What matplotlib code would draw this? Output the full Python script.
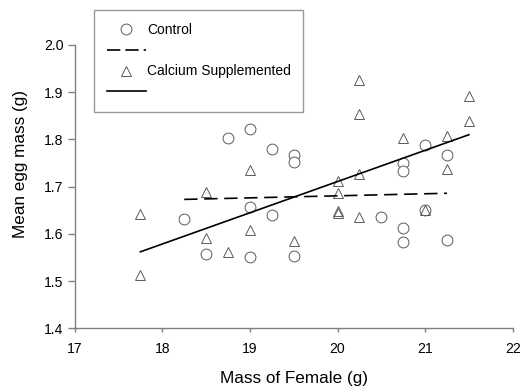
import matplotlib
matplotlib.use("Agg")
import matplotlib.pyplot as plt
from matplotlib.lines import Line2D

plt.rcParams['font.family'] = ['Liberation Sans', 'DejaVu Sans']

# Control (circles)
ctrl_x = [18.25, 18.5, 18.75, 19.0, 19.0, 19.0, 19.25, 19.25, 19.5, 19.5, 19.5,
          20.5, 20.75, 20.75, 20.75, 20.75, 21.0, 21.0, 21.25, 21.25]
ctrl_y = [1.631, 1.557, 1.803, 1.823, 1.657, 1.551, 1.780, 1.640, 1.766, 1.753, 1.553,
          1.636, 1.750, 1.734, 1.613, 1.582, 1.789, 1.650, 1.766, 1.587]

# Calcium supplemented (triangles)
ca_x = [17.75, 17.75, 18.5, 18.5, 18.75, 19.0, 19.0, 19.5, 20.0, 20.0, 20.0, 20.0,
        20.25, 20.25, 20.25, 20.25, 20.75, 21.0, 21.25, 21.25, 21.5, 21.5]
ca_y = [1.642, 1.513, 1.689, 1.592, 1.562, 1.736, 1.608, 1.585, 1.711, 1.687, 1.648, 1.644,
        1.925, 1.854, 1.727, 1.636, 1.803, 1.650, 1.807, 1.738, 1.891, 1.840]

# fitted lines (end points)
ctrl_fit_x = [18.25, 21.25]
ctrl_fit_y = [1.673, 1.686]
ca_fit_x = [17.75, 21.5]
ca_fit_y = [1.562, 1.810]

fig = plt.figure(figsize=(5.2, 3.91), dpi=100)
ax = fig.add_axes([74.7 / 520, 62.7 / 391, 438 / 520, 283.3 / 391])

ax.plot(ctrl_x, ctrl_y, linestyle='none', marker='o', markersize=7.8,
        markerfacecolor='white', markeredgecolor='#5a5a5a', markeredgewidth=0.7, zorder=3)
ax.plot(ca_x, ca_y, linestyle='none', marker='^', markersize=7.8,
        markerfacecolor='none', markeredgecolor='#5a5a5a', markeredgewidth=0.7, zorder=3)
ax.plot(ctrl_fit_x, ctrl_fit_y, color='black', linewidth=1.2, linestyle=(0, (8, 4)), zorder=4)
ax.plot(ca_fit_x, ca_fit_y, color='black', linewidth=1.2, zorder=4)

ax.set_xlim(17, 22)
ax.set_ylim(1.4, 2.0)
ax.set_xticks([17, 18, 19, 20, 21, 22])
ax.set_yticks([1.4, 1.5, 1.6, 1.7, 1.8, 1.9, 2.0])
ax.set_yticklabels(['1.4', '1.5', '1.6', '1.7', '1.8', '1.9', '2.0'])

for side in ['top', 'right']:
    ax.spines[side].set_visible(False)
for side in ['left', 'bottom']:
    ax.spines[side].set_color('#808080')
    ax.spines[side].set_linewidth(1.0)
ax.tick_params(axis='x', direction='out', length=3, width=1, color='#808080',
               labelsize=10.1, pad=7)
ax.tick_params(axis='y', direction='out', length=5, width=1, color='#808080',
               labelsize=10.1, pad=3)

ax.set_xlabel('Mass of Female (g)', fontsize=12.3)
ax.set_ylabel('Mean egg mass (g)', fontsize=12.3)
ax.xaxis.set_label_coords(0.5, -0.15)
ax.yaxis.set_label_coords(-0.107, 0.58)

handles = [
    Line2D([], [], linestyle='none', marker='o', markersize=7.8, markerfacecolor='white',
           markeredgecolor='#5a5a5a', markeredgewidth=0.7),
    Line2D([], [], color='black', linewidth=1.2, linestyle=(0, (8, 3))),
    Line2D([], [], linestyle='none', marker='^', markersize=7.8, markerfacecolor='none',
           markeredgecolor='#5a5a5a', markeredgewidth=0.7),
    Line2D([], [], color='black', linewidth=1.2),
]
labels = ['Control', ' ', 'Calcium Supplemented', ' ']
leg = fig.legend(handles, labels, loc='upper left', bbox_to_anchor=(94 / 520, 1 - 10 / 391),
                 bbox_transform=fig.transFigure, borderaxespad=0, fontsize=10.0,
                 frameon=True, fancybox=False, edgecolor='#808080', handlelength=2.85,
                 handletextpad=0.05, borderpad=0.9, labelspacing=0.5)
leg.get_frame().set_linewidth(1.0)

fig.savefig('out.png', dpi=100)
